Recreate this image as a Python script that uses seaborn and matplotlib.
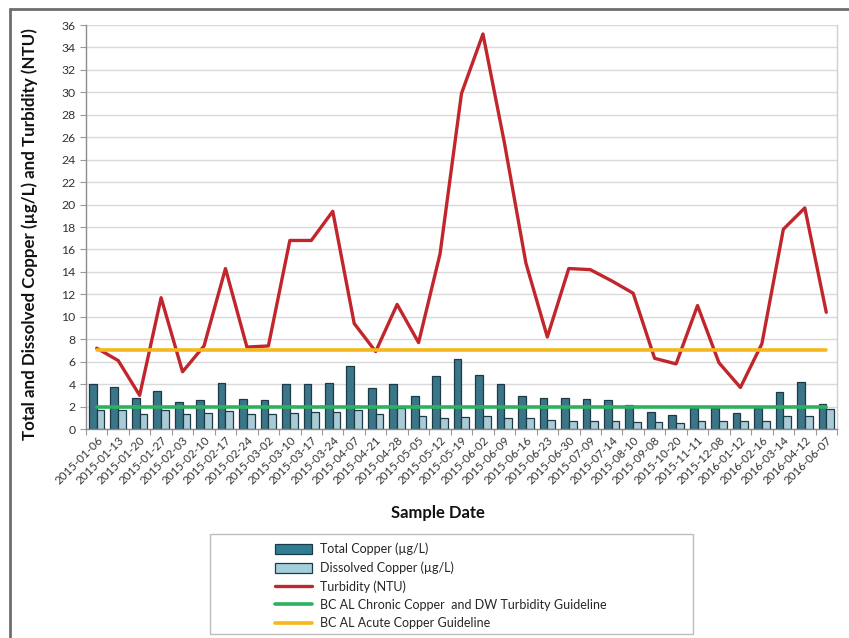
import numpy as np
import pandas as pd
import matplotlib
matplotlib.use("Agg")
import matplotlib.pyplot as plt
import seaborn as sns
from matplotlib.patches import Patch, Rectangle
from matplotlib.lines import Line2D

dates = ["2015-01-06", "2015-01-13", "2015-01-20", "2015-01-27", "2015-02-03",
         "2015-02-10", "2015-02-17", "2015-02-24", "2015-03-02", "2015-03-10",
         "2015-03-17", "2015-03-24", "2015-04-07", "2015-04-21", "2015-04-28",
         "2015-05-05", "2015-05-12", "2015-05-19", "2015-06-02", "2015-06-09",
         "2015-06-16", "2015-06-23", "2015-06-30", "2015-07-09", "2015-07-14",
         "2015-08-10", "2015-09-08", "2015-10-20", "2015-11-11", "2015-12-08",
         "2016-01-12", "2016-02-16", "2016-03-14", "2016-04-12", "2016-06-07"]
total_copper = [4.0, 3.75, 2.8, 3.4, 2.45, 2.6, 4.1, 2.7, 2.6, 4.0,
                4.0, 4.1, 5.65, 3.65, 4.0, 2.95, 4.7, 6.25, 4.8, 4.0,
                2.95, 2.8, 2.8, 2.7, 2.6, 2.1, 1.55, 1.25, 1.9, 1.9,
                1.4, 1.9, 3.3, 4.2, 2.25]
dissolved_copper = [1.7, 1.7, 1.3, 1.7, 1.3, 1.4, 1.6, 1.3, 1.3, 1.4,
                    1.5, 1.5, 1.65, 1.3, 1.85, 1.15, 0.95, 1.05, 1.15, 0.95,
                    0.95, 0.8, 0.7, 0.7, 0.7, 0.65, 0.65, 0.55, 0.7, 0.7,
                    0.7, 0.7, 1.15, 1.15, 1.75]
turbidity = [7.2, 6.1, 3.0, 11.7, 5.1, 7.4, 14.3, 7.3, 7.4, 16.8,
             16.8, 19.4, 9.4, 6.9, 11.1, 7.7, 15.6, 29.9, 35.2, 25.5,
             14.8, 8.2, 14.3, 14.2, 13.2, 12.1, 6.3, 5.8, 11.0, 5.9,
             3.7, 7.6, 17.8, 19.7, 10.4]
chronic_guideline = 2.0
acute_guideline = 7.0

series_names = ["Total Copper (\u00b5g/L)", "Dissolved Copper (\u00b5g/L)",
                "Turbidity (NTU)", "BC AL Chronic Copper  and DW Turbidity Guideline",
                "BC AL Acute Copper Guideline"]

c_total = "#2E7D95"
c_diss = "#A3CFDC"
c_edge = "#1C3A48"
c_red = "#C0262C"
c_green = "#2DB15E"
c_yellow = "#F5B71C"

sns.set_theme(style="white")
plt.rcParams["font.family"] = ["Lato", "DejaVu Sans"]

df = pd.DataFrame({"date": dates * 2,
                   "value": total_copper + dissolved_copper,
                   "series": [series_names[0]] * len(dates) + [series_names[1]] * len(dates)})

fig = plt.figure(figsize=(8.49, 6.38), dpi=100)
ax = fig.add_axes([86 / 849, 1 - 429 / 638, (837 - 86) / 849, (429 - 25) / 638])

sns.barplot(data=df, x="date", y="value", hue="series", order=dates,
            hue_order=series_names[:2], palette=[c_total, c_diss],
            width=0.72, gap=0, edgecolor=c_edge, linewidth=0.9,
            legend=False, ax=ax, zorder=2)

n = len(dates)
idx = np.arange(n)
sns.lineplot(x=idx, y=turbidity, color=c_red, linewidth=2.4, ax=ax, zorder=3)
sns.lineplot(x=idx, y=np.full(n, chronic_guideline), color=c_green, linewidth=2.6, ax=ax, zorder=4)
sns.lineplot(x=idx, y=np.full(n, acute_guideline), color=c_yellow, linewidth=2.6, ax=ax, zorder=5)

ax.set_xlim(-0.5, n - 0.5)
ax.set_ylim(0, 36)
ax.set_yticks(np.arange(0, 37, 2))
ax.yaxis.grid(True, color="#D9D9D9", linewidth=1)
ax.set_axisbelow(True)
ax.set_xticks(idx)
ax.set_xticklabels(dates, rotation=45, ha="right", rotation_mode="anchor",
                   fontsize=8.3, color="#333333")
ax.set_xticks(np.arange(-0.5, n, 1), minor=True)
ax.tick_params(axis="x", which="major", length=0, pad=4)
ax.tick_params(axis="x", which="minor", length=4, color="#999999", width=0.8, bottom=True)
ax.tick_params(axis="y", length=4, color="#999999", width=0.8, left=True,
               labelsize=8.8, labelcolor="#333333")
ax.set_xlabel("")
ax.set_ylabel("")
ax.spines["top"].set_visible(False)
ax.spines["left"].set_color("#8C8C8C")
ax.spines["bottom"].set_color("#8C8C8C")
ax.spines["right"].set_color("#D0D0D0")
for s in ax.spines.values():
    s.set_linewidth(1)

fig.text(30 / 849, 1 - 234 / 638, "Total and Dissolved Copper (\u00b5g/L) and Turbidity (NTU)",
         rotation=90, ha="center", va="center", fontsize=12.2, fontweight="bold", color="#111111")
fig.text(438 / 849, 1 - 513 / 638, "Sample Date", ha="center", va="center",
         fontsize=12, fontweight="bold", color="#111111")

# outer chart border (top and left visible)
fig.add_artist(Line2D([10 / 849, 1.0], [1 - 9 / 638, 1 - 9 / 638], color="#6E6E6E", linewidth=2,
                      transform=fig.transFigure))
fig.add_artist(Line2D([10 / 849, 10 / 849], [1 - 9 / 638, 0.0], color="#6E6E6E", linewidth=2,
                      transform=fig.transFigure))

# legend box
fig.add_artist(Rectangle((210 / 849, 1 - 634 / 638), (693 - 210) / 849, (634 - 534) / 638,
                         transform=fig.transFigure, fill=False, edgecolor="#BDBDBD", linewidth=1))
handles = [Patch(facecolor=c_total, edgecolor=c_edge, linewidth=0.9),
           Patch(facecolor=c_diss, edgecolor=c_edge, linewidth=0.9),
           Line2D([0], [0], color=c_red, linewidth=2.4),
           Line2D([0], [0], color=c_green, linewidth=2.6),
           Line2D([0], [0], color=c_yellow, linewidth=2.6)]
fig.legend(handles, series_names, loc="upper left",
           bbox_to_anchor=(266 / 849, 1 - 534 / 638), frameon=False,
           fontsize=9, handlelength=3.0, handleheight=0.9, labelspacing=0.5,
           handletextpad=0.6, borderpad=0.2)

fig.savefig("out.png", dpi=100)
